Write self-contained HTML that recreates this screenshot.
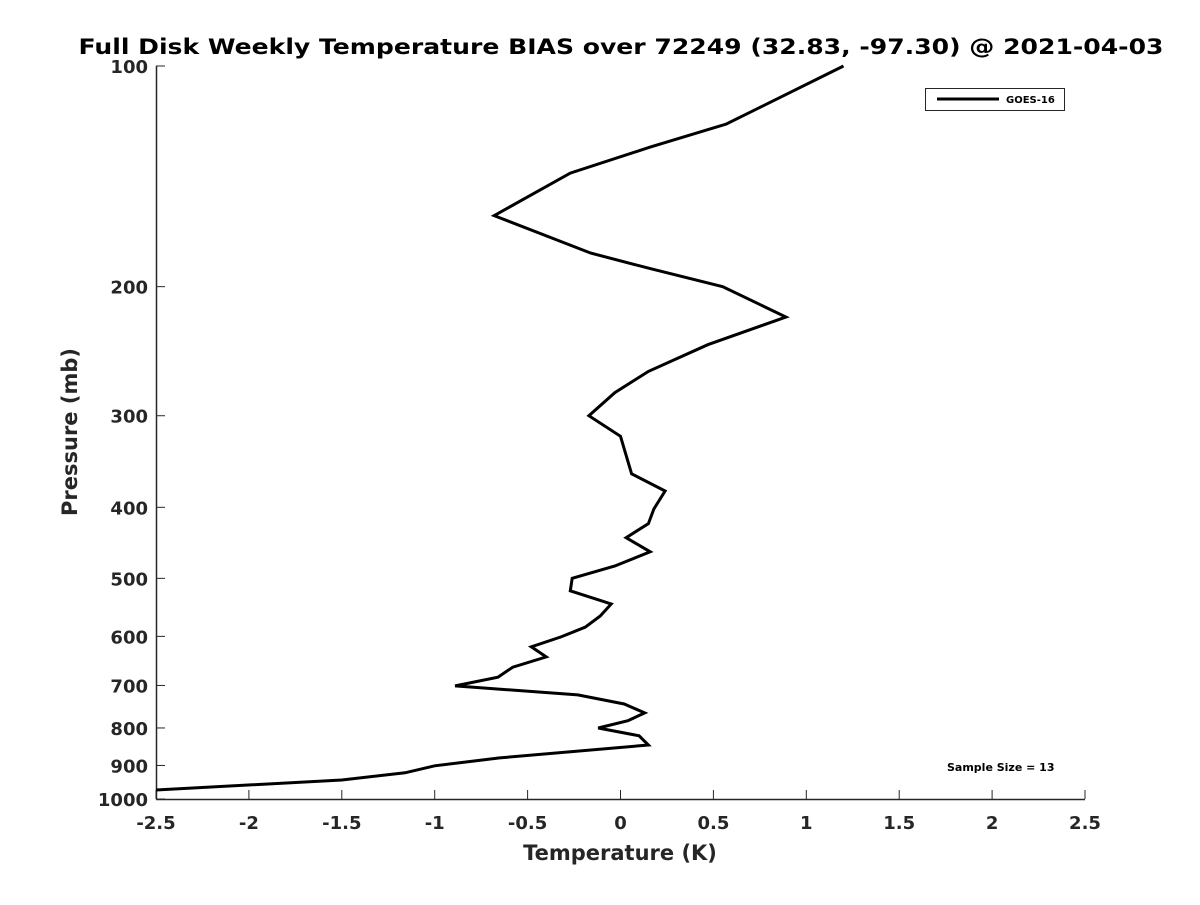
<!DOCTYPE html>
<html><head><meta charset="utf-8"><style>
body{margin:0;background:#fff;}
svg text{font-family:"DejaVu Sans","Liberation Sans",sans-serif;font-weight:bold;}
</style></head><body>
<svg id="chart" width="1200" height="900" viewBox="0 0 1200 900" xmlns="http://www.w3.org/2000/svg">
<rect width="1200" height="900" fill="#fff"/>
<text x="621" y="54" text-anchor="middle" font-size="21" textLength="1085" lengthAdjust="spacingAndGlyphs" fill="#000">Full Disk Weekly Temperature BIAS over 72249 (32.83, -97.30) @ 2021-04-03</text>
<g id="axes"></g>
<polyline id="series" fill="none" stroke="#000" stroke-width="3" stroke-linejoin="miter"/>
<text x="620" y="860" text-anchor="middle" font-size="21" fill="#262626">Temperature (K)</text>
<text transform="translate(77,432) rotate(-90)" text-anchor="middle" font-size="21" fill="#262626">Pressure (mb)</text>
<g>
<rect x="925.5" y="88.5" width="139" height="22" fill="#fff" stroke="#262626" stroke-width="1"/>
<line x1="937" y1="99" x2="999" y2="99" stroke="#000" stroke-width="3"/>
<text x="1006" y="103" font-size="10" fill="#000">GOES-16</text>
</g>
<text x="947" y="771" font-size="11" fill="#000">Sample Size = 13</text>
</svg>
<script>
const temps = [1.20,0.57,0.16,-0.27,-0.68,-0.16,0.16,0.55,0.89,0.47,0.15,-0.03,-0.17,0.00,0.06,0.24,0.18,0.15,0.03,0.16,-0.03,-0.26,-0.27,-0.05,-0.11,-0.19,-0.32,-0.48,-0.40,-0.58,-0.66,-0.89,-0.23,0.02,0.13,0.04,-0.12,0.10,0.15,-0.65,-1.0,-1.16,-1.5,-2.5];
const pressures = [100,120,129,140,160,180,189,200,220,240,261,279,300,320,360,380,402,421,440,460,481,500,520,542,563,583,601,620,640,661,682,701,721,742,763,782,800,820,844,879,901,921,942,972];
const xTicks = [-2.5,-2,-1.5,-1,-0.5,0,0.5,1,1.5,2,2.5];
const xTickLabels = ["-2.5","-2","-1.5","-1","-0.5","0","0.5","1","1.5","2","2.5"];
const yTicks = [100,200,300,400,500,600,700,800,900,1000];
const yTickLabels = ["100","200","300","400","500","600","700","800","900","1000"];

const X0=156,X1=1085,Y0=66,Y1=799;
const xs = t => X0 + (t+2.5)/5*(X1-X0);
const ys = p => Y0 + (Math.log10(p)-2)*(Y1-Y0);
const NS="http://www.w3.org/2000/svg";
const axes=document.getElementById('axes');
function mk(tag,attrs){const e=document.createElementNS(NS,tag);for(const k in attrs)e.setAttribute(k,attrs[k]);return e;}
let l=mk('line',{x1:X0,y1:Y1+0.5,x2:X1,y2:Y1+0.5,stroke:'#262626','stroke-width':1.5});


axes.appendChild(l);
l=mk('line',{x1:X0+0.5,y1:Y0,x2:X0+0.5,y2:Y1,stroke:'#262626','stroke-width':1.5});


axes.appendChild(l);
xTicks.forEach((t,i)=>{
  const x=xs(t);
  const tk=mk('line',{x1:x,y1:Y1,x2:x,y2:Y1-9,stroke:'#262626','stroke-width':1});
  
  
  axes.appendChild(tk);
  const tx=mk('text',{x:x,y:829,'text-anchor':'middle','font-size':18,fill:'#262626'});
  
  
  tx.textContent=xTickLabels[i];axes.appendChild(tx);
});
yTicks.forEach((p,i)=>{
  const y=ys(p);
  const tk=mk('line',{x1:X0,y1:y,x2:X0+9,y2:y,stroke:'#262626','stroke-width':1});
  
  
  axes.appendChild(tk);
  const tx=mk('text',{x:148,y:y+7,'text-anchor':'end','font-size':18,fill:'#262626'});
  
  
  tx.textContent=yTickLabels[i];axes.appendChild(tx);
});
document.getElementById('series').setAttribute('points',temps.map((t,i)=>xs(t).toFixed(1)+','+ys(pressures[i]).toFixed(1)).join(' '));
</script>
</body></html>
